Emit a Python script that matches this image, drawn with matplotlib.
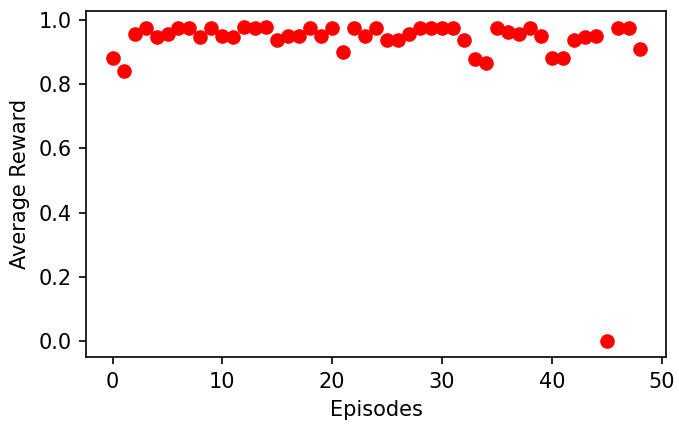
import matplotlib
matplotlib.use("Agg")
from matplotlib import pyplot as plt

episodes = list(range(49))
rewards = [0.88, 0.84, 0.956, 0.975, 0.947, 0.956, 0.975, 0.975, 0.947, 0.975,
           0.95, 0.947, 0.978, 0.975, 0.978, 0.938, 0.95, 0.95, 0.975, 0.95,
           0.975, 0.90, 0.975, 0.95, 0.975, 0.938, 0.938, 0.956, 0.975, 0.975,
           0.975, 0.975, 0.938, 0.879, 0.866, 0.975, 0.963, 0.956, 0.975, 0.95,
           0.882, 0.882, 0.938, 0.947, 0.95, 0.0, 0.975, 0.975, 0.91]

fig, ax = plt.subplots(figsize=(679 / 150, 426 / 150), dpi=150)
fig.subplots_adjust(left=0.127, right=0.981, top=0.974, bottom=0.162)

ax.scatter(episodes, rewards, color="red")
ax.set_xlabel("Episodes")
ax.set_ylabel("Average Reward")

fig.savefig("out.png", dpi=150)
